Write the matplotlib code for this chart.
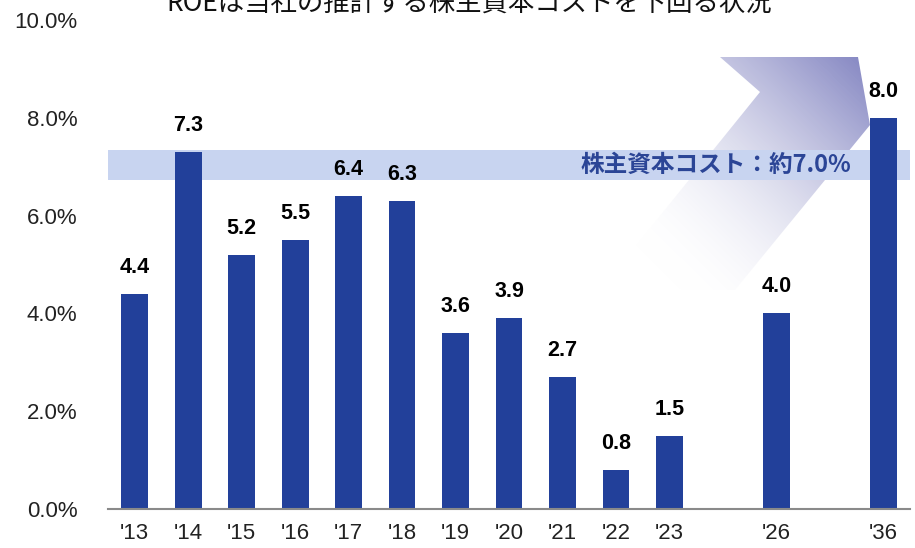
import numpy as np
import matplotlib.pyplot as plt
from matplotlib.patches import Polygon

years = ["'13", "'14", "'15", "'16", "'17", "'18", "'19", "'20", "'21", "'22", "'23", "'26", "'36"]
positions = [0, 1, 2, 3, 4, 5, 6, 7, 8, 9, 10, 12, 14]
roe = [4.4, 7.3, 5.2, 5.5, 6.4, 6.3, 3.6, 3.9, 2.7, 0.8, 1.5, 4.0, 8.0]
cost_band = (6.72, 7.35)
yticks = [0, 2, 4, 6, 8, 10]

title = "ROEは当社の推計する株主資本コストを下回る状況"
band_label = "株主資本コスト：約7.0%"

bar_color = "#22409a"
band_color = "#c8d4f0"
jp = ["Noto Sans CJK JP", "DejaVu Sans"]

fig = plt.figure(figsize=(9.15, 5.48), dpi=100)

# background layer for the gradient arrow (pixel coordinates)
bg = fig.add_axes([0, 0, 1, 1], zorder=0)
bg.set_xlim(0, 915)
bg.set_ylim(548, 0)
bg.axis("off")

arrow_pts = [(720, 57), (858, 57), (870, 125), (735, 290), (600, 290), (760, 92)]
poly = Polygon(arrow_pts, closed=True, facecolor="none", edgecolor="none")
bg.add_patch(poly)

gx, gy = np.meshgrid(np.linspace(590, 880, 300), np.linspace(50, 300, 260))
# project onto diagonal direction (top-right -> lower-left)
d = np.array([-230.0, 233.0])
d /= np.linalg.norm(d)
t = ((gx - 870) * d[0] + (gy - 57) * d[1]) / 300.0
t = np.clip(t, 0, 1)
top = np.array([0x84, 0x86, 0xc2]) / 255.0
img = np.ones(gx.shape + (4,))
for i in range(3):
    img[..., i] = top[i] + (1 - top[i]) * t
img[..., 3] = np.clip(1 - t ** 1.3, 0, 1)
im = bg.imshow(img, extent=(590, 880, 300, 50), origin="upper", aspect="auto", zorder=1)
im.set_clip_path(poly)

ax = fig.add_axes([108 / 915, 1 - 509 / 548, 802 / 915, 489 / 548], zorder=1)
ax.patch.set_visible(False)

ax.axhspan(cost_band[0], cost_band[1], color=band_color, zorder=1, lw=0)
ax.text(13.4, sum(cost_band) / 2, band_label, ha="right", va="center",
        fontsize=17, fontweight="bold", color="#2b4596", family=jp, zorder=2)

bars = ax.bar(positions, roe, width=0.5, color=bar_color, zorder=3)
for x, v in zip(positions, roe):
    ax.text(x, v + 0.33, f"{v:.1f}", ha="center", va="bottom",
            fontsize=15.5, fontweight="bold", family="Liberation Sans", zorder=4)

ax.set_xlim(-0.5, 14.5)
ax.set_ylim(0, 10)
ax.set_yticks(yticks)
ax.set_yticklabels([f"{v:.1f}%" for v in yticks], family="Liberation Sans", fontsize=16, color="#222222")
ax.set_xticks(positions)
ax.set_xticklabels(years, family=["Liberation Sans Narrow", "Liberation Sans"], fontsize=16, color="#222222")
ax.tick_params(axis="both", length=0)
ax.tick_params(axis="y", pad=22)
ax.tick_params(axis="x", pad=10)
for s in ["top", "right", "left"]:
    ax.spines[s].set_visible(False)
ax.spines["bottom"].set_color("#8a8a8a")
ax.spines["bottom"].set_linewidth(1.5)
ax.spines["bottom"].set_zorder(5)

fig.text(469 / 915, 1 - 11 / 548, title, ha="center", va="baseline",
         fontsize=19, family=jp, color="#111111")

fig.savefig("out.png", dpi=100)
